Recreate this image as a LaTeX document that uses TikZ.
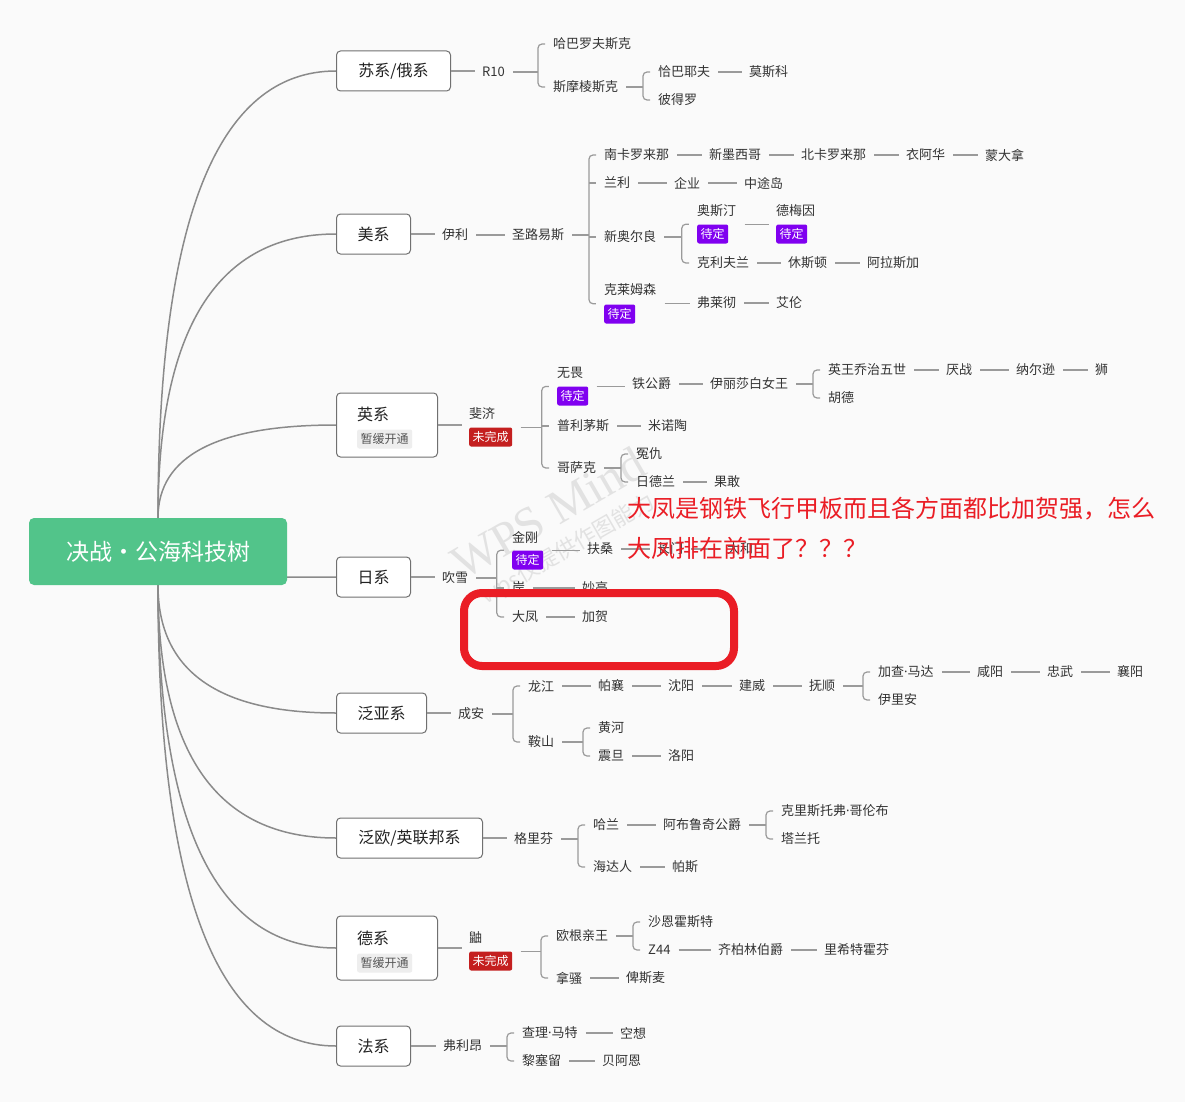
\documentclass[tikz,border=0pt]{standalone}
\usepackage{fontspec}
\setmainfont{Noto Sans CJK SC}
\newfontfamily\wmserif{Liberation Serif}
\newfontfamily\latinf{Noto Sans}
\newcommand\md{{\latinf ·}}
\usetikzlibrary{fit,calc}
\definecolor{bgc}{HTML}{FAFAFA}
\definecolor{lc}{HTML}{9A9A9A}
\definecolor{rlc}{HTML}{8A8A8A}
\definecolor{boxc}{HTML}{707070}
\definecolor{txt}{HTML}{333333}
\definecolor{txtd}{HTML}{222222}
\definecolor{purp}{HTML}{8000F0}
\definecolor{redtag}{HTML}{C41F1F}
\definecolor{graytag}{HTML}{EEEEEE}
\definecolor{graytxt}{HTML}{555555}
\definecolor{rootg}{HTML}{52C48A}
\definecolor{redc}{HTML}{EA1D25}
\definecolor{wmc}{HTML}{E2E2E2}
\pgfdeclarelayer{back}\pgfdeclarelayer{mid}\pgfsetlayers{back,mid,main}
\newcommand\fsz[1]{\fontsize{#1}{#1}\selectfont}
\tikzset{
  tx/.style={anchor=west, inner sep=0pt, font=\fsz{13}, text=txt},
  tagbase/.style={anchor=west, inner xsep=3.5pt, inner ysep=0pt, minimum height=19pt, rounded corners=2pt, text=white, font=\fsz{12}},
  pend/.style={tagbase, fill=purp},
  undone/.style={tagbase, fill=redtag},
  pause/.style={tagbase, fill=graytag, text=graytxt},
  lvl/.style={draw=boxc, line width=1pt, fill=white, rounded corners=4pt, minimum height=40pt, anchor=west, inner sep=0pt, font=\fsz{16}, text=txtd},
  lnk/.style={draw=lc, line width=1.2pt, shorten <=8pt, shorten >=7pt},
  brkline/.style={draw=lc, line width=1.2pt, rounded corners=4pt},
  rline/.style={draw=rlc, line width=1.5pt},
}
\newcommand\lk[2]{\draw[lnk] (#1.east) -- (#1.east -| #2.west);}
\newcommand\fromlvl[2]{\draw[lnk, shorten <=0pt] (#1.east) -- (#1.east -| #2.west);}
\newcommand\brk[3]{%
  \coordinate (#2bx) at ([xshift=-15pt]#2.west);
  \draw[lnk, shorten >=0pt] (#1.east) -- (#1.east -| #2bx);
  \draw[brkline] ([xshift=-8pt]#2.west) -- (#2bx) -- (#2bx |- #3.west) -- ([xshift=-8pt]#3.west);}
\newcommand\tk[2]{\draw[draw=lc, line width=1.2pt] (#1bx |- #2.west) -- ([xshift=-8pt]#2.west);}
\newcommand\blk[6]{\node[tx] (#1t) at (#2,#3) {#4}; \node[#5] (#1g) at (#2,#3+23) {#6}; \node[fit=(#1t)(#1g), inner sep=0pt] (#1) {};}
\newcommand\rcurve[2]{%
  \coordinate (#2k) at (#1 |- #2.west);
  \begin{pgfonlayer}{mid}
  \draw[rline] (#1) .. controls ($(#1)!0.667!(#2k)$) and ($(#2.west)!0.667!(#2k)$) .. (#2.west);
  \end{pgfonlayer}}
\begin{document}
\begin{tikzpicture}[x=1pt,y=-1pt]
\begin{pgfonlayer}{back}
\fill[bgc] (0,0) rectangle (1185,1102);
\end{pgfonlayer}
\useasboundingbox (0,0) rectangle (1185,1102);

% watermark
\begin{pgfonlayer}{mid}
\node[text=wmc, rotate=30, font=\fsz{48}\wmserif, inner sep=0pt] (wm1) at (548,513) {WPS Mind};
\node[text=wmc, rotate=30, font=\fsz{22}, inner sep=0pt] (wm2) at (568,550) {wps仅提供作图能力};
\end{pgfonlayer}

% root
\node[fill=rootg, rounded corners=5pt, minimum width=258pt, minimum height=67pt, inner sep=0pt, text=white, font=\fsz{23}] (root) at (158,551.5) {决战·公海科技树};

% level 1 boxes
\node[lvl, minimum width=114pt] (su) at (336,71) {苏系/俄系};
\node[lvl, minimum width=74pt] (us) at (336,234) {美系};
\node[lvl, minimum width=101pt, minimum height=64pt] (uk) at (336,425) {};
\node[tx, font=\fsz{16}, text=txtd] (ukt) at (357,414) {英系};
\node[pause] (ukg) at (357,439) {暂缓开通};
\node[lvl, minimum width=74pt] (jp) at (336,577) {日系};
\node[lvl, minimum width=90pt] (pa) at (336,713) {泛亚系};
\node[lvl, minimum width=146pt] (pe) at (336,838) {泛欧/英联邦系};
\node[lvl, minimum width=101pt, minimum height=64pt] (de) at (336,948) {};
\node[tx, font=\fsz{16}, text=txtd] (det) at (357,938) {德系};
\node[pause] (deg) at (357,963) {暂缓开通};
\node[lvl, minimum width=74pt] (fr) at (336,1046) {法系};

% root curves
\rcurve{root.north}{su}
\rcurve{root.north}{us}
\rcurve{root.north}{uk}
\rcurve{root.south}{jp}
\rcurve{root.south}{pa}
\rcurve{root.south}{pe}
\rcurve{root.south}{de}
\rcurve{root.south}{fr}

% ===== 苏系
\node[tx] (r10) at (482,72) {R10};
\node[tx] (hb) at (553,44) {哈巴罗夫斯克};
\node[tx] (sm) at (553,87) {斯摩棱斯克};
\node[tx] (qb) at (658,72) {恰巴耶夫};
\node[tx] (bd) at (658,100) {彼得罗};
\node[tx] (msk) at (749,72) {莫斯科};
\fromlvl{su}{r10}
\brk{r10}{hb}{sm}
\brk{sm}{qb}{bd}
\lk{qb}{msk}

% ===== 美系
\node[tx] (yl) at (442,235) {伊利};
\node[tx] (sl) at (512,235) {圣路易斯};
\node[tx] (nk) at (604,155) {南卡罗来那};
\node[tx] (xm) at (709,155) {新墨西哥};
\node[tx] (bkl) at (801,155) {北卡罗来那};
\node[tx] (yah) at (906,155) {衣阿华};
\node[tx] (mdn) at (985,155) {蒙大拿};
\node[tx] (ll) at (604,183) {兰利};
\node[tx] (qy) at (674,183) {企业};
\node[tx] (ztd) at (744,183) {中途岛};
\node[tx] (xao) at (604,237) {新奥尔良};
\blk{ast}{697}{211}{奥斯汀}{pend}{待定}
\blk{dmy}{776}{211}{德梅因}{pend}{待定}
\node[tx] (klf) at (697,263) {克利夫兰};
\node[tx] (xsd) at (788,263) {休斯顿};
\node[tx] (alsj) at (867,263) {阿拉斯加};
\node[tx] (klmt) at (604,290) {克莱姆森};
\node[pend] (klmg) at (604,314) {待定};
\node[fit=(klmt)(klmg), inner sep=0pt] (klm) {};
\node[tx] (flc) at (697,303) {弗莱彻};
\node[tx] (al) at (776,303) {艾伦};
\fromlvl{us}{yl}
\lk{yl}{sl}
\brk{sl}{nk}{klm}
\tk{nk}{ll}
\tk{nk}{xao}
\lk{nk}{xm}\lk{xm}{bkl}\lk{bkl}{yah}\lk{yah}{mdn}
\lk{ll}{qy}\lk{qy}{ztd}
\brk{xao}{ast}{klf}
\lk{ast}{dmy}
\lk{klf}{xsd}\lk{xsd}{alsj}
\lk{klm}{flc}\lk{flc}{al}

% ===== 英系
\blk{fj}{469}{414}{斐济}{undone}{未完成}
\blk{ww}{557}{373}{无畏}{pend}{待定}
\node[tx] (tgj) at (632,384) {铁公爵};
\node[tx] (ylsb) at (710,384) {伊丽莎白女王};
\node[tx] (kgw) at (828,370) {英王乔治五世};
\node[tx] (yz) at (946,370) {厌战};
\node[tx] (nex) at (1016,370) {纳尔逊};
\node[tx] (shi) at (1095,370) {狮};
\node[tx] (hd) at (828,398) {胡德};
\node[tx] (plms) at (557,426) {普利茅斯};
\node[tx] (mnt) at (648,426) {米诺陶};
\node[tx] (gsk) at (557,468) {哥萨克};
\node[tx] (yc) at (636,454) {冤仇};
\node[tx] (rdl) at (636,482) {日德兰};
\node[tx] (gg) at (714,482) {果敢};
\fromlvl{uk}{fj}
\brk{fj}{ww}{gsk}
\tk{ww}{plms}
\lk{ww}{tgj}\lk{tgj}{ylsb}
\brk{ylsb}{kgw}{hd}
\lk{kgw}{yz}\lk{yz}{nex}\lk{nex}{shi}
\lk{plms}{mnt}
\brk{gsk}{yc}{rdl}
\lk{rdl}{gg}

% ===== 日系
\node[tx] (cx) at (442,578) {吹雪};
\blk{jg}{512}{537}{金刚}{pend}{待定}
\node[tx] (fs) at (587,549) {扶桑};
\node[tx] (cm) at (657,549) {长门};
\node[tx] (dh) at (727,549) {大和};
\node[tx] (an) at (512,588) {岸};
\node[tx] (mg) at (582,588) {妙高};
\node[tx] (df) at (512,617) {大凤};
\node[tx] (jh) at (582,617) {加贺};
\fromlvl{jp}{cx}
\brk{cx}{jg}{df}
\tk{jg}{an}
\lk{jg}{fs}\lk{fs}{cm}\lk{cm}{dh}
\lk{an}{mg}
\lk{df}{jh}

% ===== 泛亚系
\node[tx] (ca) at (458,714) {成安};
\node[tx] (lj) at (528,686) {龙江};
\node[tx] (px) at (598,686) {帕襄};
\node[tx] (sy) at (668,686) {沈阳};
\node[tx] (jw) at (739,686) {建威};
\node[tx] (fsh) at (809,686) {抚顺};
\node[tx] (jcmd) at (878,672) {加查\md 马达};
\node[tx] (xy) at (977,672) {咸阳};
\node[tx] (zw) at (1047,672) {忠武};
\node[tx] (xiy) at (1117,672) {襄阳};
\node[tx] (yla) at (878,700) {伊里安};
\node[tx] (as) at (528,742) {鞍山};
\node[tx] (hh) at (598,728) {黄河};
\node[tx] (zd) at (598,756) {震旦};
\node[tx] (ly) at (668,756) {洛阳};
\fromlvl{pa}{ca}
\brk{ca}{lj}{as}
\lk{lj}{px}\lk{px}{sy}\lk{sy}{jw}\lk{jw}{fsh}
\brk{fsh}{jcmd}{yla}
\lk{jcmd}{xy}\lk{xy}{zw}\lk{zw}{xiy}
\brk{as}{hh}{zd}
\lk{zd}{ly}

% ===== 泛欧/英联邦系
\node[tx] (glf) at (514,839) {格里芬};
\node[tx] (hl) at (593,825) {哈兰};
\node[tx] (abl) at (663,825) {阿布鲁奇公爵};
\node[tx] (klsf) at (781,811) {克里斯托弗\md 哥伦布};
\node[tx] (tlt) at (781,839) {塔兰托};
\node[tx] (hdr) at (593,867) {海达人};
\node[tx] (ps) at (672,867) {帕斯};
\fromlvl{pe}{glf}
\brk{glf}{hl}{hdr}
\lk{hl}{abl}
\brk{abl}{klsf}{tlt}
\lk{hdr}{ps}

% ===== 德系
\blk{you}{469}{938}{鼬}{undone}{未完成}
\node[tx] (ogqw) at (556,936) {欧根亲王};
\node[tx] (send) at (648,922) {沙恩霍斯特};
\node[tx] (zff) at (648,950) {Z44};
\node[tx] (zblb) at (718,950) {齐柏林伯爵};
\node[tx] (lxt) at (824,950) {里希特霍芬};
\node[tx] (ns) at (556,978) {拿骚};
\node[tx] (bsm) at (626,978) {俾斯麦};
\fromlvl{de}{you}
\brk{you}{ogqw}{ns}
\brk{ogqw}{send}{zff}
\lk{zff}{zblb}\lk{zblb}{lxt}
\lk{ns}{bsm}

% ===== 法系
\node[tx] (fla) at (443,1046) {弗利昂};
\node[tx] (clmt) at (522,1033) {查理\md 马特};
\node[tx] (kx) at (620,1033) {空想};
\node[tx] (lsl) at (522,1061) {黎塞留};
\node[tx] (bae) at (602,1061) {贝阿恩};
\fromlvl{fr}{fla}
\brk{fla}{clmt}{lsl}
\lk{clmt}{kx}
\lk{lsl}{bae}

% ===== annotation
\draw[draw=redc, line width=8pt, rounded corners=18pt] (464,593) rectangle (734,666);
\node[anchor=west, inner sep=0pt, text=redc, font=\fsz{24}] (note1) at (627,509) {大凤是钢铁飞行甲板而且各方面都比加贺强，怎么};
\node[anchor=west, inner sep=0pt, text=redc, font=\fsz{24}] (note2) at (627,548) {大凤排在前面了？？？};
\end{tikzpicture}
\end{document}
